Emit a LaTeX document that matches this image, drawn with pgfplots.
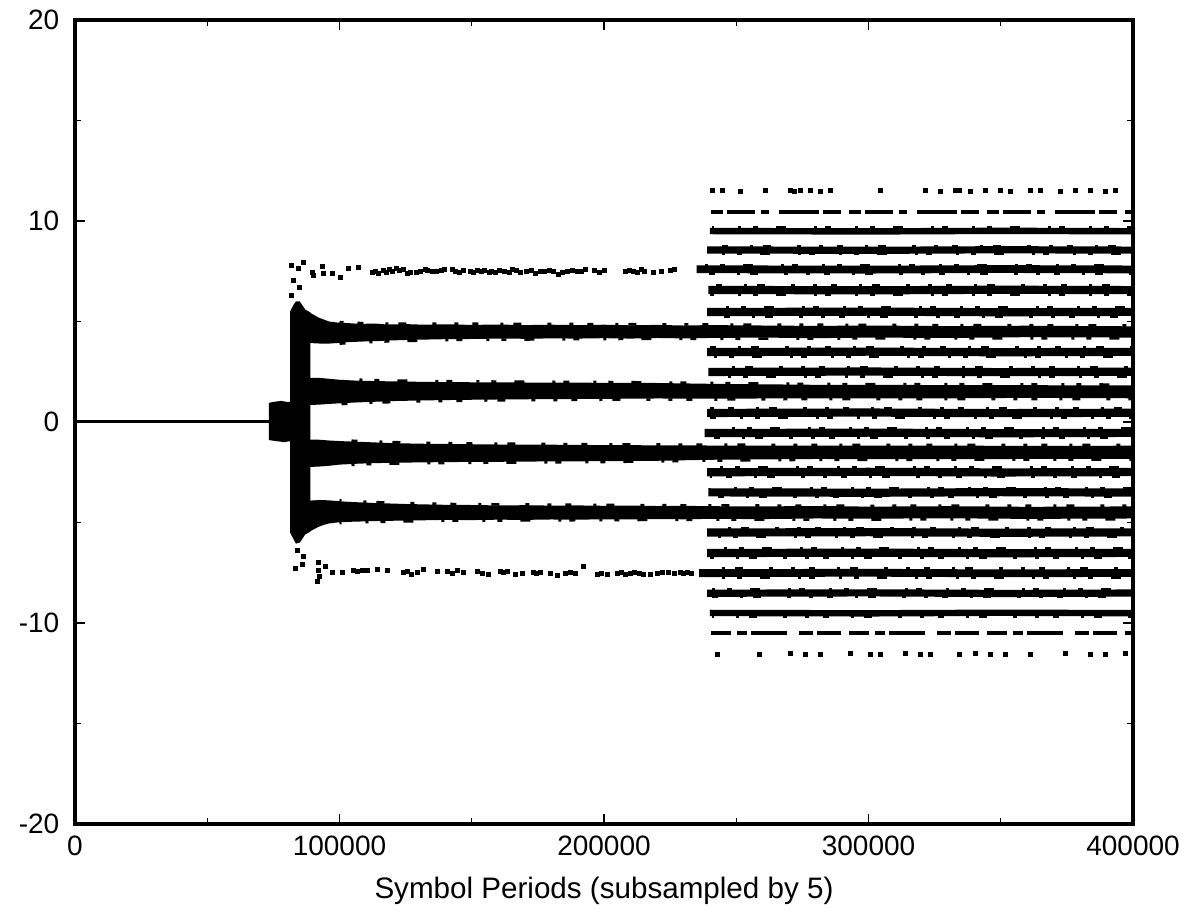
\documentclass[border=0pt]{standalone}
\usepackage{fontspec}
\setmainfont{Liberation Sans}
\usepackage{pgfplots}
\pgfplotsset{compat=1.18}

\begin{document}
\fontsize{14}{16}\selectfont
\begin{tikzpicture}
  \begin{axis}[name=ax,
      scale only axis, width=529pt, height=402pt,
      xmin=0, xmax=400000, ymin=-20, ymax=20,
      xtick={0,100000,200000,300000,400000},
      xticklabels={0,100000,200000,300000,400000},
      ytick={-20,-10,0,10,20},
      yticklabels={-20,-10,0,10,20},
      minor xtick={50000,150000,250000,350000},
      minor ytick={-15,-5,5,15},
      scaled x ticks=false,
      tick align=inside,
      major tick length=5pt, minor tick length=3pt,
      every tick/.style={black, line width=0.6pt},
      axis line style={line width=2.2pt},
      axis on top=true,
      xticklabel style={yshift=-1pt, inner xsep=0pt},
      yticklabel style={xshift=-3pt},
      xlabel={\fontsize{14.8}{17}\selectfont Symbol Periods (subsampled by 5)},
      xlabel style={yshift=-1pt},
      band/.style={black, line width=4.1pt},
      burrA/.style={black, line width=1.3pt, dash pattern=on 2pt off 7pt on 3pt off 11pt on 1.5pt off 5pt on 4pt off 13pt on 2pt off 9pt},
      burrB/.style={black, line width=1.3pt, dash pattern=on 3pt off 12pt on 1.5pt off 6pt on 2.5pt off 9pt on 5pt off 14pt on 1.5pt off 4pt},
      /pgf/number format/assume math mode=true]

    % flat start
    \addplot[black, line width=1.5pt] coordinates {(0,0)(74000,0)};
    % small block
    \addplot[fill=black, draw=none] coordinates {(73300,-0.9)(73300,0.95)(75000,1.0)(78000,1.05)(80000,1.0)(81500,1.0)(81500,-0.95)(79000,-1.0)(76000,-0.95)} -- cycle;
    % spike
    \addplot[fill=black, draw=none] coordinates {(81300,-5.5)(81300,5.5)(82500,5.8)(83500,6.0)(85000,6.0)(86000,5.8)(87000,5.6)(89000,5.45)(89000,-5.45)(87000,-5.6)(86000,-5.8)(85000,-6.0)(83500,-6.05)(82500,-5.8)} -- cycle;

    % band +4.5
    \addplot[fill=black, draw=none] coordinates {(88000,5.5)(90000,5.35)(92000,5.2)(94000,5.1)(96000,5.0)(99000,4.95)(103000,4.92)(108000,4.88)(113000,4.9)(118000,4.85)(125000,4.87)(132000,4.84)(140000,4.86)(150000,4.83)(160000,4.85)(170000,4.82)(180000,4.84)(190000,4.82)(200000,4.84)(210000,4.81)(220000,4.83)(230000,4.8)(240000,4.82)(260000,4.8)(280000,4.78)(300000,4.8)(330000,4.77)(360000,4.79)(400000,4.76)
      (400000,4.2)(360000,4.22)(330000,4.18)(300000,4.2)(280000,4.17)(260000,4.2)(240000,4.18)(230000,4.16)(220000,4.18)(210000,4.15)(200000,4.17)(190000,4.15)(180000,4.16)(170000,4.14)(160000,4.15)(150000,4.13)(140000,4.12)(132000,4.1)(125000,4.08)(118000,4.05)(113000,4.02)(108000,4.0)(103000,3.97)(99000,3.93)(96000,3.9)(93000,3.9)(90000,3.92)(88000,3.95)} -- cycle;
    % band +1.5
    \addplot[fill=black, draw=none] coordinates {(88000,2.2)(92000,2.2)(96000,2.15)(100000,2.1)(106000,2.06)(112000,2.04)(120000,2.02)(130000,2.0)(145000,1.98)(160000,1.97)(180000,1.96)(200000,1.95)(220000,1.94)(240000,1.9)(280000,1.85)(320000,1.84)(360000,1.83)(400000,1.82)
      (400000,1.18)(360000,1.2)(320000,1.17)(280000,1.18)(240000,1.16)(220000,1.17)(200000,1.15)(180000,1.14)(160000,1.12)(145000,1.1)(130000,1.07)(120000,1.04)(112000,1.0)(106000,0.97)(100000,0.93)(96000,0.9)(92000,0.86)(88000,0.85)} -- cycle;
    % band -1.5
    \addplot[fill=black, draw=none] coordinates {(88000,-0.88)(92000,-0.88)(96000,-0.92)(100000,-0.95)(106000,-0.98)(112000,-1.01)(120000,-1.05)(130000,-1.08)(145000,-1.1)(160000,-1.12)(180000,-1.13)(200000,-1.15)(220000,-1.16)(240000,-1.17)(280000,-1.18)(320000,-1.17)(360000,-1.19)(400000,-1.18)
      (400000,-1.83)(360000,-1.84)(320000,-1.85)(280000,-1.84)(240000,-1.88)(220000,-1.93)(200000,-1.95)(180000,-1.96)(160000,-1.98)(145000,-1.99)(130000,-2.01)(120000,-2.03)(112000,-2.05)(106000,-2.08)(100000,-2.12)(96000,-2.18)(92000,-2.22)(88000,-2.24)} -- cycle;
    % band -4.5
    \addplot[fill=black, draw=none] coordinates {(88000,-3.92)(90000,-3.9)(93000,-3.88)(96000,-3.9)(99000,-3.93)(103000,-3.97)(108000,-4.0)(113000,-4.03)(118000,-4.05)(125000,-4.08)(132000,-4.1)(140000,-4.12)(150000,-4.13)(160000,-4.15)(170000,-4.14)(180000,-4.16)(190000,-4.15)(200000,-4.17)(210000,-4.16)(220000,-4.18)(230000,-4.17)(240000,-4.19)(260000,-4.2)(280000,-4.18)(300000,-4.21)(330000,-4.19)(360000,-4.22)(400000,-4.2)
      (400000,-4.8)(360000,-4.82)(330000,-4.79)(300000,-4.81)(280000,-4.8)(260000,-4.83)(240000,-4.82)(230000,-4.84)(220000,-4.83)(210000,-4.85)(200000,-4.84)(190000,-4.86)(180000,-4.85)(170000,-4.87)(160000,-4.86)(150000,-4.88)(140000,-4.87)(132000,-4.89)(125000,-4.9)(118000,-4.92)(113000,-4.93)(108000,-4.95)(103000,-4.97)(99000,-5.0)(96000,-5.05)(94000,-5.12)(92000,-5.22)(90000,-5.36)(88000,-5.5)} -- cycle;
    % rough edges of the early bands
    \addplot[burrA] coordinates {(100000,4.97)(108000,4.92)(118000,4.89)(140000,4.89)(200000,4.87)(240000,4.85)(300000,4.83)(400000,4.8)};
    \addplot[burrB] coordinates {(100000,3.9)(108000,3.96)(118000,4.01)(140000,4.08)(200000,4.13)(240000,4.14)(300000,4.16)(400000,4.16)};
    \addplot[burrB, dash phase=5pt] coordinates {(100000,2.14)(112000,2.08)(130000,2.04)(160000,2.01)(200000,1.99)(240000,1.94)(280000,1.89)(400000,1.86)};
    \addplot[burrA, dash phase=8pt] coordinates {(100000,0.89)(112000,0.96)(130000,1.03)(160000,1.08)(200000,1.11)(240000,1.12)(280000,1.14)(400000,1.14)};
    \addplot[burrA, dash phase=3pt] coordinates {(100000,-0.91)(112000,-0.97)(130000,-1.04)(160000,-1.08)(200000,-1.11)(240000,-1.13)(280000,-1.14)(400000,-1.14)};
    \addplot[burrB, dash phase=9pt] coordinates {(100000,-2.16)(112000,-2.09)(130000,-2.05)(160000,-2.02)(200000,-1.99)(240000,-1.92)(280000,-1.88)(400000,-1.87)};
    \addplot[burrA, dash phase=11pt] coordinates {(100000,-3.9)(108000,-3.96)(118000,-4.01)(140000,-4.08)(200000,-4.13)(240000,-4.15)(300000,-4.17)(400000,-4.16)};
    \addplot[burrB, dash phase=2pt] coordinates {(100000,-5.03)(108000,-4.99)(118000,-4.96)(140000,-4.91)(200000,-4.88)(240000,-4.86)(300000,-4.85)(400000,-4.84)};

    % later bands (dense)
    \addplot[band] coordinates {(239000,0.45)(300000,0.47)(350000,0.44)(400000,0.46)};
    \addplot[band] coordinates {(238000,-0.55)(300000,-0.53)(350000,-0.56)(400000,-0.54)};
    \addplot[band] coordinates {(239500,2.49)(300000,2.51)(350000,2.48)(400000,2.5)};
    \addplot[band] coordinates {(239000,-2.5)(300000,-2.48)(350000,-2.51)(400000,-2.49)};
    \addplot[band] coordinates {(239000,3.48)(300000,3.5)(350000,3.47)(400000,3.49)};
    \addplot[band] coordinates {(239500,-3.5)(300000,-3.52)(350000,-3.49)(400000,-3.51)};
    \addplot[band] coordinates {(239000,5.47)(300000,5.49)(350000,5.46)(400000,5.48)};
    \addplot[band] coordinates {(239000,-5.5)(300000,-5.48)(350000,-5.51)(400000,-5.49)};
    \addplot[band] coordinates {(239500,6.57)(300000,6.55)(350000,6.58)(400000,6.56)};
    \addplot[band] coordinates {(239000,-6.52)(300000,-6.5)(350000,-6.53)(400000,-6.51)};
    \addplot[band, line width=3.9pt] coordinates {(235000,7.6)(300000,7.58)(350000,7.61)(400000,7.59)};
    \addplot[band, line width=3.9pt] coordinates {(236000,-7.52)(300000,-7.5)(350000,-7.53)(400000,-7.51)};
    \addplot[band, line width=3.6pt] coordinates {(239000,8.56)(300000,8.54)(350000,8.57)(400000,8.55)};
    \addplot[band, line width=3.6pt] coordinates {(239000,-8.52)(300000,-8.5)(350000,-8.53)(400000,-8.51)};
    \addplot[band, line width=3.2pt] coordinates {(240000,9.5)(300000,9.48)(350000,9.51)(400000,9.49)};
    \addplot[band, line width=3.2pt] coordinates {(240000,-9.5)(300000,-9.52)(350000,-9.49)(400000,-9.51)};
    % rough edges of the later bands
    \addplot[burrA] coordinates {(240000,0.69)(400000,0.69)};
    \addplot[burrB] coordinates {(240000,0.23)(400000,0.23)};
    \addplot[burrB, dash phase=4pt] coordinates {(240000,-0.31)(400000,-0.31)};
    \addplot[burrA, dash phase=7pt] coordinates {(240000,-0.77)(400000,-0.77)};
    \addplot[burrA, dash phase=12pt] coordinates {(240000,2.72)(400000,2.72)};
    \addplot[burrB, dash phase=6pt] coordinates {(240000,2.27)(400000,2.27)};
    \addplot[burrB, dash phase=10pt] coordinates {(240000,-2.27)(400000,-2.27)};
    \addplot[burrA, dash phase=1pt] coordinates {(240000,-2.72)(400000,-2.72)};
    \addplot[burrA, dash phase=9pt] coordinates {(240000,3.71)(400000,3.71)};
    \addplot[burrB, dash phase=13pt] coordinates {(240000,3.25)(400000,3.25)};
    \addplot[burrB, dash phase=3pt] coordinates {(240000,-3.28)(400000,-3.28)};
    \addplot[burrA, dash phase=5pt] coordinates {(240000,-3.73)(400000,-3.73)};
    \addplot[burrB, dash phase=7pt] coordinates {(240000,5.7)(400000,5.7)};
    \addplot[burrA, dash phase=2pt] coordinates {(240000,5.24)(400000,5.24)};
    \addplot[burrA, dash phase=14pt] coordinates {(240000,-5.27)(400000,-5.27)};
    \addplot[burrB, dash phase=11pt] coordinates {(240000,-5.72)(400000,-5.72)};
    \addplot[burrA, dash phase=6pt] coordinates {(240000,6.79)(400000,6.79)};
    \addplot[burrB, dash phase=1pt] coordinates {(240000,6.34)(400000,6.34)};
    \addplot[burrB, dash phase=8pt] coordinates {(240000,-6.3)(400000,-6.3)};
    \addplot[burrA, dash phase=10pt] coordinates {(240000,-6.74)(400000,-6.74)};
    \addplot[burrB, dash phase=12pt] coordinates {(236000,7.81)(400000,7.81)};
    \addplot[burrA, dash phase=4pt] coordinates {(236000,7.38)(400000,7.38)};
    \addplot[burrA, dash phase=13pt] coordinates {(237000,-7.3)(400000,-7.3)};
    \addplot[burrB, dash phase=5pt] coordinates {(237000,-7.73)(400000,-7.73)};
    \addplot[burrA, dash phase=3pt] coordinates {(240000,8.75)(400000,8.75)};
    \addplot[burrB, dash phase=9pt] coordinates {(240000,8.36)(400000,8.36)};
    \addplot[burrB, dash phase=14pt] coordinates {(240000,-8.32)(400000,-8.32)};
    \addplot[burrA, dash phase=8pt] coordinates {(240000,-8.71)(400000,-8.71)};
    \addplot[burrB, dash phase=2pt] coordinates {(241000,9.67)(400000,9.67)};
    \addplot[burrA, dash phase=11pt] coordinates {(241000,-9.67)(400000,-9.67)};
    % sparse +-10.5
    \addplot[black, line width=2.2pt, dash pattern=on 6pt off 2pt on 14pt off 3pt on 4pt off 5pt on 20pt off 2pt on 9pt off 4pt] coordinates {(240500,10.45)(400000,10.45)};
    \addplot[black, line width=2.2pt, dash pattern=on 10pt off 3pt on 5pt off 2pt on 18pt off 6pt on 7pt off 2pt on 12pt off 4pt] coordinates {(240500,-10.5)(400000,-10.5)};

    % scattered outliers
    \addplot[only marks, mark=square*, mark size=1pt, black] coordinates {
      (82000,7.8)(82400,7.06)(82000,6.3)(84300,7.66)(85000,6.7)(86200,7.96)(89600,7.46)(90000,7.3)(93400,7.76)(93800,7.4)(97200,7.4)(100200,7.2)(103200,7.66)(107000,7.7)
      (112300,7.45)(113500,7.5)(114600,7.4)(116500,7.55)(117800,7.45)(119000,7.6)(119900,7.5)(121500,7.62)(122700,7.55)(124200,7.6)(125600,7.4)(126700,7.42)(129200,7.45)(130500,7.5)(132300,7.6)(133200,7.55)(135000,7.5)(136800,7.48)(138500,7.55)(139600,7.58)(142500,7.6)(143800,7.5)(145500,7.45)(146800,7.55)(149300,7.5)(150800,7.45)(152200,7.52)(153500,7.5)(154800,7.55)(156500,7.45)
      (157500,7.5)(159000,7.45)(160500,7.55)(162300,7.5)(164200,7.45)(165500,7.6)(167000,7.55)(168500,7.45)(170600,7.5)(172500,7.52)(174000,7.4)(175800,7.5)(177500,7.48)(179500,7.55)(181000,7.5)(182800,7.35)(184300,7.45)(186000,7.5)(188000,7.55)(190000,7.5)(191500,7.48)(193000,7.6)(196500,7.52)(198300,7.45)(200000,7.55)(208000,7.5)(209500,7.55)(211000,7.5)(212500,7.45)(214000,7.6)(215300,7.5)(218500,7.45)(221800,7.5)(225000,7.55)(226500,7.6)
      (84000,-6.37)(86200,-6.7)(83200,-7.26)(85800,-7.1)(91900,-7.0)(91900,-7.4)(92300,-7.7)(91500,-7.95)(94500,-7.2)(97500,-7.5)(101000,-7.5)(105100,-7.4)(106800,-7.45)(108500,-7.4)(110400,-7.4)(114200,-7.35)(118000,-7.4)
      (124000,-7.5)(125500,-7.45)(127200,-7.6)(129300,-7.5)(131600,-7.35)(136900,-7.45)(140700,-7.45)(142500,-7.55)(144600,-7.4)(146700,-7.5)(152000,-7.45)(153900,-7.55)(156200,-7.6)
      (160700,-7.45)(162000,-7.5)(163300,-7.45)(166400,-7.6)(169000,-7.55)(173200,-7.5)(174500,-7.55)(175800,-7.5)(179600,-7.55)(182200,-7.62)(185300,-7.55)(187200,-7.5)(189000,-7.55)(192100,-7.2)
      (197400,-7.6)(199200,-7.55)(201100,-7.6)(204900,-7.55)(206500,-7.5)(208200,-7.6)(209800,-7.55)(211500,-7.5)(213200,-7.55)(214800,-7.6)(217400,-7.6)(220000,-7.55)(222000,-7.5)(224200,-7.5)(226500,-7.55)(228700,-7.5)(229900,-7.55)(231500,-7.5)(233200,-7.55)
      (240850,11.5)(244600,11.5)(251400,11.45)(260900,11.5)(270300,11.5)(272000,11.45)(274100,11.5)(277900,11.5)(281700,11.45)(285500,11.5)(304400,11.5)(321400,11.5)(327100,11.45)(332700,11.5)(334500,11.5)(338400,11.45)(344100,11.5)(349700,11.5)(353500,11.45)(361100,11.5)(364900,11.5)(372400,11.45)(378100,11.5)(383800,11.5)(389400,11.45)(393200,11.5)
      (242700,-11.55)(258900,-11.55)(270300,-11.5)(276000,-11.55)(281700,-11.55)(293000,-11.5)(300600,-11.55)(304400,-11.55)(313900,-11.5)(319500,-11.55)(323300,-11.55)(334500,-11.55)(340300,-11.5)(346000,-11.55)(351600,-11.55)(361100,-11.55)(374300,-11.5)(383800,-11.55)(389400,-11.55)(397000,-11.5)
    };
  \end{axis}
  \path ([shift={(-37.5pt,-42pt)}]ax.south west) rectangle ([shift={(26pt,10pt)}]ax.north east);
\end{tikzpicture}
\end{document}
